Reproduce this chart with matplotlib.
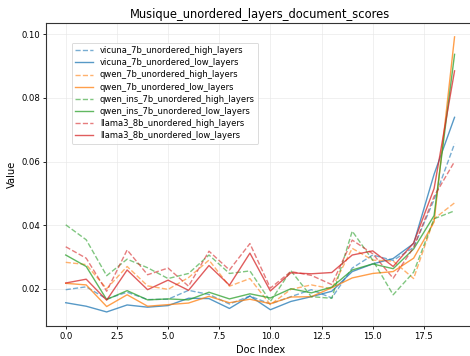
import matplotlib
matplotlib.use("Agg")
import matplotlib.pyplot as plt
import numpy as np

doc_index = list(range(20))

vicuna_high = [0.0197, 0.0206, 0.0168, 0.0189, 0.0166, 0.0167, 0.0195, 0.0182, 0.0152, 0.0177,
               0.0152, 0.0175, 0.0197, 0.0171, 0.0265, 0.0306, 0.0289, 0.0330, 0.0480, 0.0656]
vicuna_low = [0.0156, 0.0145, 0.0127, 0.0149, 0.0142, 0.0147, 0.0170, 0.0169, 0.0138, 0.0177,
              0.0134, 0.0160, 0.0175, 0.0192, 0.0254, 0.0278, 0.0295, 0.0342, 0.0560, 0.0739]
qwen_high = [0.0283, 0.0276, 0.0200, 0.0270, 0.0209, 0.0198, 0.0235, 0.0290, 0.0208, 0.0232,
             0.0150, 0.0198, 0.0212, 0.0200, 0.0327, 0.0290, 0.0287, 0.0232, 0.0420, 0.0470]
qwen_low = [0.0217, 0.0212, 0.0144, 0.0181, 0.0145, 0.0150, 0.0155, 0.0176, 0.0156, 0.0167,
            0.0153, 0.0174, 0.0175, 0.0203, 0.0234, 0.0248, 0.0254, 0.0296, 0.0410, 0.0992]
qwen_ins_high = [0.0401, 0.0354, 0.0241, 0.0293, 0.0266, 0.0232, 0.0248, 0.0306, 0.0248, 0.0256,
                 0.0160, 0.0257, 0.0175, 0.0170, 0.0381, 0.0290, 0.0181, 0.0252, 0.0420, 0.0445]
qwen_ins_low = [0.0306, 0.0270, 0.0166, 0.0194, 0.0165, 0.0168, 0.0165, 0.0189, 0.0168, 0.0184,
                0.0171, 0.0200, 0.0187, 0.0205, 0.0259, 0.0278, 0.0263, 0.0325, 0.0430, 0.0937]
llama_high = [0.0332, 0.0296, 0.0192, 0.0322, 0.0244, 0.0265, 0.0208, 0.0318, 0.0259, 0.0342,
              0.0202, 0.0254, 0.0242, 0.0213, 0.0353, 0.0310, 0.0233, 0.0330, 0.0490, 0.0600]
llama_low = [0.0218, 0.0230, 0.0164, 0.0259, 0.0197, 0.0227, 0.0195, 0.0273, 0.0211, 0.0312,
             0.0193, 0.0250, 0.0247, 0.0251, 0.0306, 0.0319, 0.0270, 0.0344, 0.0515, 0.0885]

series = [
    ("vicuna_7b_unordered_high_layers", vicuna_high, "#1f77b4", "--"),
    ("vicuna_7b_unordered_low_layers", vicuna_low, "#1f77b4", "-"),
    ("qwen_7b_unordered_high_layers", qwen_high, "#ff7f0e", "--"),
    ("qwen_7b_unordered_low_layers", qwen_low, "#ff7f0e", "-"),
    ("qwen_ins_7b_unordered_high_layers", qwen_ins_high, "#2ca02c", "--"),
    ("qwen_ins_7b_unordered_low_layers", qwen_ins_low, "#2ca02c", "-"),
    ("llama3_8b_unordered_high_layers", llama_high, "#d62728", "--"),
    ("llama3_8b_unordered_low_layers", llama_low, "#d62728", "-"),
]

fig = plt.figure(figsize=(4.7, 3.56), dpi=100)
ax = fig.add_axes([0.0985, 0.0851, 0.910, 0.850])

for name, vals, color, ls in series:
    alpha = 0.6 if ls == "--" else 0.75
    ax.plot(doc_index, vals, linestyle=ls, color=color, alpha=alpha, linewidth=1.0, label=name)

ax.grid(True, color="#e6e6e6", linewidth=0.6, alpha=0.7)
ax.set_axisbelow(True)
ax.set_title("Musique_unordered_layers_document_scores", fontsize=8.3, pad=3.5)
ax.set_xlabel("Doc Index", fontsize=7.1, labelpad=3)
ax.set_ylabel("Value", fontsize=7.1, labelpad=3.5)
ax.tick_params(axis="x", labelsize=6.1, length=2.5, width=0.6, pad=1.8)
ax.tick_params(axis="y", labelsize=6.1, length=2.5, width=0.6, pad=1.5)
for sp in ax.spines.values():
    sp.set_linewidth(0.8)
    sp.set_color("#333333")

leg = ax.legend(loc="upper left", bbox_to_anchor=(0.059, 0.935), borderaxespad=0,
                fontsize=6.0, frameon=True, handlelength=2.2, labelspacing=0.38)
leg.get_frame().set_edgecolor("#cccccc")
leg.get_frame().set_linewidth(0.6)

fig.savefig("out.png", dpi=100)
